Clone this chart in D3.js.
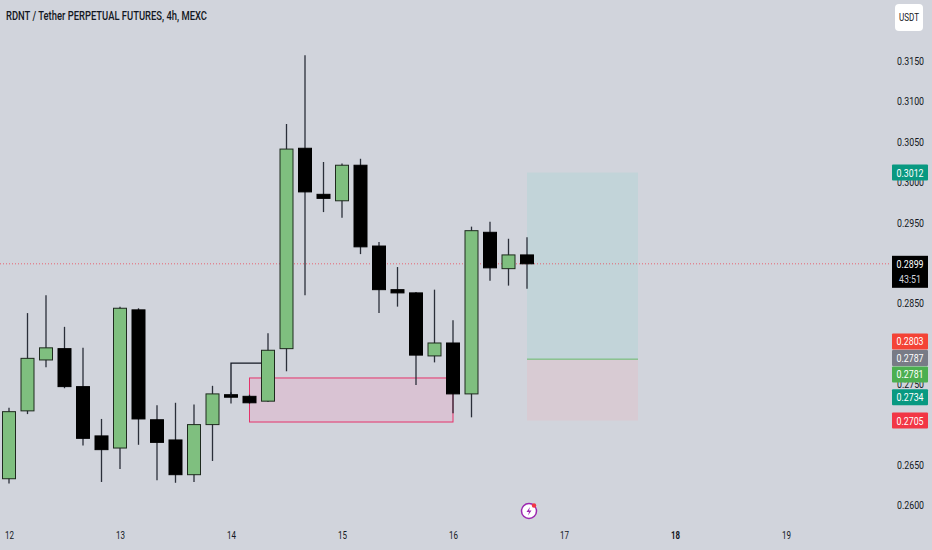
<!DOCTYPE html>
<html>
<head>
<meta charset="utf-8">
<script src="https://cdn.jsdelivr.net/npm/d3@7"></script>
<style>
  body { margin: 0; background: #d1d4dc; }
  svg { display: block; font-family: Roboto, "Liberation Sans", sans-serif; }
</style>
</head>
<body>
<div id="chart"></div>
<script>
// 4h candles, from the 12th 00:00
const opens  = [0.2633,0.2717,0.2780,0.2794,0.2747,0.2686,0.2671,0.2842,0.2706,0.2681,0.2638,0.2700,0.2737,0.2735,0.2729,0.2794,0.3042,0.2985,0.2977,0.3021,0.2921,0.2867,0.2863,0.2785,0.2801,0.2738,0.2938,0.2893,0.2910];
const highs  = [0.2721,0.2838,0.2860,0.2821,0.2795,0.2707,0.2846,0.2844,0.2724,0.2727,0.2725,0.2748,0.2740,0.2737,0.2813,0.3072,0.3157,0.3025,0.3023,0.3029,0.2926,0.2895,0.2864,0.2867,0.2829,0.2945,0.2951,0.2930,0.2932];
const lows   = [0.2627,0.2713,0.2771,0.2745,0.2674,0.2629,0.2645,0.2675,0.2631,0.2628,0.2629,0.2655,0.2726,0.2726,0.2728,0.2766,0.2860,0.2963,0.2956,0.2911,0.2838,0.2846,0.2749,0.2777,0.2714,0.2709,0.2878,0.2872,0.2868];
const closes = [0.2716,0.2782,0.2795,0.2747,0.2683,0.2669,0.2844,0.2707,0.2678,0.2638,0.2700,0.2738,0.2734,0.2727,0.2792,0.3041,0.2988,0.2980,0.3021,0.2920,0.2867,0.2863,0.2786,0.2801,0.2738,0.2940,0.2894,0.2910,0.2899];

// ticks that the price tags leave visible
const priceTicks = [0.2600,0.2650,0.2750,0.2850,0.2950,0.3000,0.3050,0.3100,0.3150];
const dayTicks = [12,13,14,15,16,17,18,19];

// drawings: [candle index, price]
const zone = [[13, 0.27577], [24, 0.27032]];
const bracket = [[12, 0.2735], [12, 0.27762], [13.65, 0.27762]];
const position = { from: 28, to: 34, target: 0.3012, entry: 0.2781, stop: 0.2705 };

const lastPrice = 0.2899;
const countdown = "43:51";
const sideLabels = [
  { value: 0.2803, color: "#f44336" },
  { value: 0.2787, color: "#787b86" },
  { value: 0.2781, color: "#4caf50" },
  { value: 0.2734, color: "#089981" },
  { value: 0.2705, color: "#f23645" }
];

const width = 932, height = 550;
const dims = { plotRight: 890, axisX: 897 };

const svg = d3.select("#chart").append("svg")
  .attr("width", width).attr("height", height);

svg.append("rect").attr("width", width).attr("height", height).attr("fill", "#d1d4dc");

const start = Date.UTC(2024, 0, 12);
const H4 = 4 * 3600 * 1000;
const xScale = d3.scaleUtc()
  .domain([new Date(start), new Date(Date.UTC(2024, 0, 19))])
  .range([9, 786]);
const xi = i => xScale(new Date(start + i * H4));

const yScale = d3.scaleLinear().domain([0.26, 0.315]).range([505.4, 61]);

const fmt = d3.format(".4f");

// title
svg.append("text")
  .attr("x", 6).attr("y", 20)
  .attr("font-size", 13).attr("font-weight", 500).attr("fill", "#131722")
  .attr("textLength", 201).attr("lengthAdjust", "spacingAndGlyphs")
  .text("RDNT / Tether PERPETUAL FUTURES, 4h, MEXC");

// position tool (long)
const px1 = xi(position.from), px2 = xi(position.to);
svg.append("rect")
  .attr("x", px1).attr("width", px2 - px1)
  .attr("y", yScale(position.target)).attr("height", yScale(position.entry) - yScale(position.target))
  .attr("fill", "#c2d4d9");
svg.append("rect")
  .attr("x", px1).attr("width", px2 - px1)
  .attr("y", yScale(position.entry)).attr("height", yScale(position.stop) - yScale(position.entry))
  .attr("fill", "#d8cbd3");
svg.append("line")
  .attr("x1", px1).attr("x2", px2)
  .attr("y1", yScale(position.entry)).attr("y2", yScale(position.entry))
  .attr("stroke", "#66bb6a").attr("stroke-width", 1);

// demand zone
svg.append("rect")
  .attr("x", xi(zone[0][0])).attr("width", xi(zone[1][0]) - xi(zone[0][0]))
  .attr("y", yScale(zone[0][1])).attr("height", yScale(zone[1][1]) - yScale(zone[0][1]))
  .attr("fill", "#d9c3d3").attr("stroke", "#e4336b").attr("stroke-width", 1);

// last price line
svg.append("line")
  .attr("x1", 0).attr("x2", dims.plotRight)
  .attr("y1", yScale(lastPrice)).attr("y2", yScale(lastPrice))
  .attr("stroke", "#f23645").attr("stroke-width", 1).attr("stroke-dasharray", "1,2")
  .attr("opacity", 0.7);

// candles
const candles = opens.map((o, i) => ({ i, o, h: highs[i], l: lows[i], c: closes[i] }));
const bodyW = 13;

const g = svg.append("g");
g.selectAll("line.wick").data(candles).join("line")
  .attr("class", "wick")
  .attr("x1", d => xi(d.i)).attr("x2", d => xi(d.i))
  .attr("y1", d => yScale(d.h)).attr("y2", d => yScale(d.l))
  .attr("stroke", "#2a2e39").attr("stroke-width", 1.3);

g.selectAll("rect.body").data(candles).join("rect")
  .attr("class", "body")
  .attr("x", d => xi(d.i) - bodyW / 2).attr("width", bodyW)
  .attr("y", d => yScale(Math.max(d.o, d.c)))
  .attr("height", d => Math.max(2.5, Math.abs(yScale(d.o) - yScale(d.c))))
  .attr("fill", d => d.c >= d.o ? "#7fbf7f" : "#000000")
  .attr("stroke", d => d.c >= d.o ? "#1e2a1e" : "#000000")
  .attr("stroke-width", 1);

// bracket drawing
svg.append("path")
  .attr("d", d3.line().x(d => xi(d[0])).y(d => yScale(d[1]))(bracket))
  .attr("fill", "none").attr("stroke", "#131722").attr("stroke-width", 1.3);

// price axis
const yAxis = svg.append("g");
yAxis.selectAll("text").data(priceTicks).join("text")
  .attr("x", dims.axisX).attr("y", d => yScale(d) + 4)
  .attr("font-size", 11).attr("fill", "#131722")
  .attr("textLength", 27).attr("lengthAdjust", "spacingAndGlyphs")
  .text(d => fmt(d));

// time axis
const xAxis = svg.append("g")
  .attr("transform", "translate(0,528)")
  .call(d3.axisBottom(xScale).tickValues(dayTicks.map(d => new Date(Date.UTC(2024, 0, d)))).tickSize(0).tickFormat(d3.utcFormat("%-d")));
xAxis.select(".domain").remove();
xAxis.selectAll("text")
  .attr("font-family", "Roboto, sans-serif").attr("font-size", 11).attr("fill", "#131722")
  .attr("textLength", 9).attr("lengthAdjust", "spacingAndGlyphs")
  .attr("font-weight", d => d.getUTCDate() === 18 ? 700 : 400);

// USDT button
svg.append("rect").attr("x", 895).attr("y", 4).attr("width", 28).attr("height", 27).attr("rx", 4)
  .attr("fill", "#ffffff");
svg.append("text").attr("x", 909).attr("y", 21).attr("text-anchor", "middle")
  .attr("font-size", 10).attr("fill", "#131722")
  .attr("textLength", 20).attr("lengthAdjust", "spacingAndGlyphs").text("USDT");

// side price labels
function tag(value, y, color) {
  svg.append("rect").attr("x", 892).attr("y", y - 8).attr("width", 36).attr("height", 16)
    .attr("rx", 1).attr("fill", color);
  svg.append("text").attr("x", 910).attr("y", y + 4).attr("text-anchor", "middle")
    .attr("font-size", 11).attr("fill", "#ffffff")
    .attr("textLength", 27).attr("lengthAdjust", "spacingAndGlyphs").text(fmt(value));
}
tag(position.target, yScale(position.target), "#089981");

const ly = yScale(lastPrice);
svg.append("rect").attr("x", 892).attr("y", ly - 8).attr("width", 36).attr("height", 32).attr("fill", "#000000");
svg.append("text").attr("x", 910).attr("y", ly + 4).attr("text-anchor", "middle")
  .attr("font-size", 11).attr("fill", "#ffffff")
  .attr("textLength", 27).attr("lengthAdjust", "spacingAndGlyphs").text(fmt(lastPrice));
svg.append("text").attr("x", 910).attr("y", ly + 19).attr("text-anchor", "middle")
  .attr("font-size", 11).attr("fill", "#d1d4dc")
  .attr("textLength", 22).attr("lengthAdjust", "spacingAndGlyphs").text(countdown);

let prev = -Infinity;
sideLabels.forEach(s => {
  const y = Math.max(yScale(s.value), prev + 16.5);
  prev = y;
  tag(s.value, y, s.color);
});

// event icon
const icon = svg.append("g").attr("transform", "translate(529,511)");
icon.append("circle").attr("r", 7.5).attr("fill", "#ffffff").attr("stroke", "#9c27b0").attr("stroke-width", 1.5);
icon.append("path").attr("d", "M1,-4 L-2.5,1 L0,1 L-1,4.5 L2.5,-0.5 L0,-0.5 Z").attr("fill", "#9c27b0");
icon.append("circle").attr("cx", 5).attr("cy", -5.5).attr("r", 2.2).attr("fill", "#f23645");
</script>
</body>
</html>
